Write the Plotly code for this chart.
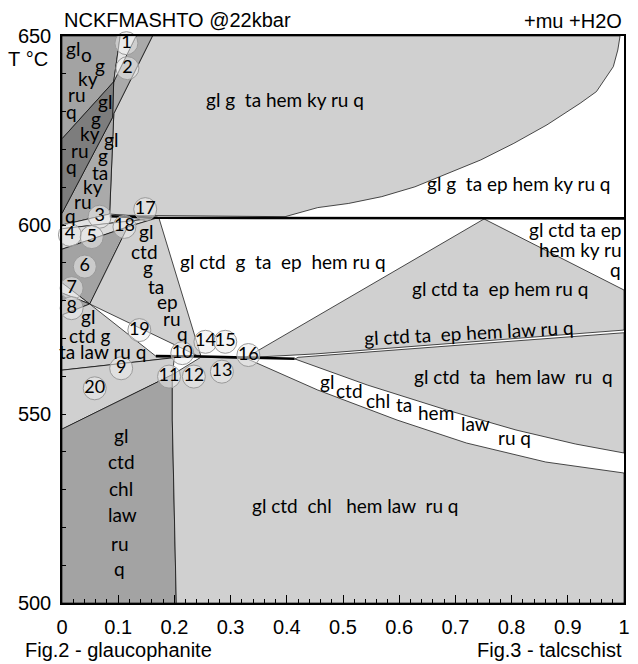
import plotly.graph_objects as go

# ---- axes -------------------------------------------------------------
x_ticks = [0, 0.1, 0.2, 0.3, 0.4, 0.5, 0.6, 0.7, 0.8, 0.9, 1.0]
x_tick_text = ["0", "0.1", "0.2", "0.3", "0.4", "0.5", "0.6", "0.7", "0.8", "0.9", "1"]
t_ticks = list(range(500, 651, 10))
t_tick_text = [str(t) if t % 50 == 0 else "" for t in t_ticks]

# ---- phase fields: (X, T °C) vertices --------------------------------
f_gl_g_ta_hem_ky_ru_q = [(0.161, 650), (0.993, 650), (0.989, 646.3), (0.981, 641.9), (0.951, 635.3),
                         (0.922, 632.2), (0.863, 626.5), (0.804, 621.6), (0.745, 617.2), (0.687, 613.7),
                         (0.628, 610.1), (0.569, 607.5), (0.510, 605.7), (0.455, 604.6), (0.397, 602.2),
                         (0.0847, 602.6), (0.0922, 629.5)]
f_gl_o_g_ky_ru_q = [(0, 650), (0.1035, 650), (0.092, 637.9), (0, 622.8)]
f_1_2 = [(0.1035, 650), (0.1317, 650), (0.092, 637.9)]
f_gl_g_ta_ky_ru_q = [(0.1317, 650), (0.161, 650), (0.0922, 629.5), (0.0847, 602.9), (0, 600.0),
                     (0, 603.1), (0.090, 628.5), (0.092, 637.9)]
f_gl_g_ky_ru_q = [(0, 622.8), (0.092, 637.9), (0.090, 628.5), (0, 603.1)]
f_3 = [(0, 600.0), (0.0847, 602.9), (0.17, 601.9), (0, 599.0)]
f_4_5 = [(0, 599.0), (0.17, 601.9), (0.1169, 599.5), (0, 593.6)]
f_6 = [(0, 593.6), (0.1169, 599.5), (0.0494, 579.1), (0, 584.7)]
f_7 = [(0, 584.7), (0.0494, 579.1), (0, 582.0)]
f_8 = [(0, 582.0), (0.0494, 579.1), (0, 576.2)]
f_gl_ctd_g_ta_ep_ru_q = [(0.1169, 599.5), (0.17, 601.9), (0.1728, 601.7), (0.2469, 565.5),
                         (0.24, 565.5), (0.0494, 579.1)]
f_gl_ctd_g_ta_law_ru_q = [(0, 576.2), (0.0494, 579.1), (0.167, 565.3), (0.24, 565.4), (0.2, 564.9),
                          (0, 561.6)]
f_20 = [(0, 546.0), (0, 561.6), (0.2, 564.9), (0.1963, 560.4)]
f_gl_ctd_chl_law_ru_q = [(0, 500), (0.2034, 500), (0.1963, 548.4), (0.1963, 560.4), (0, 546.0)]
f_gl_ctd_chl_hem_law_ru_q = [(0.2034, 500), (1, 500), (1, 534.39), (0.8607, 537.3), (0.7196, 542.33),
                             (0.5961, 548.41), (0.455, 556.35), (0.3263, 564.81), (0.2469, 565.0),
                             (0.1963, 560.4), (0.1963, 548.4)]
f_gl_ctd_ta_hem_law_ru_q = [(0.4145, 564.55), (0.5432, 557.67), (0.6843, 551.06), (0.8078, 545.77),
                            (0.9136, 542.06), (1, 539.68), (1, 571.5), (0.4515, 565.2), (0.42, 565.0)]
f_gl_ctd_ta_ep_hem_ru_q = [(0.327, 564.9), (0.751, 601.6), (1, 582.8), (1, 572.2), (0.4515, 565.9)]

# thick reaction lines
line_600_x = [0.085, 0.17, 1.0]
line_600_t = [602.3, 601.9, 601.75]
line_565_x = [0.167, 0.25, 0.414]
line_565_t = [565.3, 565.2, 564.6]

# ---- field labels -----------------------------------------------------
big_labels = [
    ("gl g  ta hem ky ru q", 0.397, 633.1, 0),
    ("gl g  ta ep hem ky ru q", 0.813, 611.0, 0),
    ("gl ctd  g  ta  ep  hem ru q", 0.393, 590.3, 0),
    ("gl ctd ta  ep hem ru q", 0.779, 583.3, 0),
    ("gl ctd ta  ep hem law ru q", 0.7234, 571.6, -3),
    ("gl ctd  ta  hem law  ru  q", 0.8028, 559.9, 0),
    ("gl ctd  chl   hem law  ru q", 0.5224, 525.9, 0),
]
right_stack = [("gl ctd ta ep", 598.7), ("hem ky ru", 593.4), ("q", 588.1)]
stack_o = [("gl", 0.0194, 646.8), ("o", 0.0436, 645.0), ("g", 0.0670, 642.3), ("ky", 0.0464, 638.8),
           ("ru", 0.0259, 634.4), ("q", 0.0171, 630.0)]
stack_ky = [("gl", 0.0758, 632.6), ("g", 0.0612, 628.2), ("ky", 0.0494, 624.3), ("ru", 0.0317, 619.8),
            ("q", 0.0171, 615.4)]
stack_ta_ky = [("gl", 0.0877, 622.5), ("g", 0.0728, 618.5), ("ta", 0.0670, 613.9), ("ky", 0.0552, 610.1),
               ("ru", 0.0376, 606.2), ("q", 0.0159, 602.6)]
stack_ep = [("gl", 0.1494, 598.2), ("ctd", 0.1464, 592.9), ("g", 0.1522, 588.8), ("ta", 0.1670, 583.7),
            ("ep", 0.1875, 579.7), ("ru", 0.1963, 575.3), ("q", 0.2139, 571.3)]
stack_law = [("gl", 0.0464, 575.7), ("ctd g", 0.0494, 570.9), ("ta law ru q", 0.0728, 566.5)]
stack_chl = [("gl", 0.1053, 544.4), ("ctd", 0.1053, 537.4), ("chl", 0.1053, 530.3), ("law", 0.107, 523.3),
             ("ru", 0.104, 515.8), ("q", 0.1028, 509.2)]
stack_band = [("gl", 0.4718, 558.7), ("ctd", 0.5115, 556.3), ("chl", 0.5626, 553.7), ("ta", 0.6085, 552.4),
              ("hem", 0.6658, 550.3), ("law", 0.7363, 547.4), ("ru q", 0.806, 543.9)]

# numbered small fields
field_numbers = [str(i) for i in range(1, 21)]
field_number_x = [0.1146, 0.1164, 0.067, 0.0141, 0.0529, 0.0406, 0.0171, 0.0171, 0.1053, 0.214,
                  0.1905, 0.2346, 0.2845, 0.2552, 0.2905, 0.3316, 0.1481, 0.1111, 0.1376, 0.0582]
field_number_t = [648.1, 641.5, 602.2, 597.4, 596.8, 589.0, 583.3, 578.0, 562.1, 566.1,
                  559.9, 559.9, 561.2, 569.1, 569.1, 565.6, 604.2, 599.5, 572.2, 556.8]

LIGHT = "#d0d0d0"
PALE = "#dcdcdc"
SLIVER = "#e8e8e8"
MID = "#a3a3a3"
MID2 = "#aaaaaa"
DARK = "#7d7d7d"

fields = [
    (f_gl_g_ta_hem_ky_ru_q, LIGHT),
    (f_gl_g_ta_ky_ru_q, MID2),
    (f_gl_o_g_ky_ru_q, MID),
    (f_1_2, SLIVER),
    (f_gl_g_ky_ru_q, DARK),
    (f_3, "#e2e2e2"),
    (f_4_5, PALE),
    (f_6, MID),
    (f_7, PALE),
    (f_8, MID),
    (f_gl_ctd_g_ta_ep_ru_q, LIGHT),
    (f_gl_ctd_g_ta_law_ru_q, LIGHT),
    (f_20, LIGHT),
    (f_gl_ctd_chl_law_ru_q, MID),
    (f_gl_ctd_chl_hem_law_ru_q, LIGHT),
    (f_gl_ctd_ta_hem_law_ru_q, LIGHT),
    (f_gl_ctd_ta_ep_hem_ru_q, LIGHT),
]

LABEL_FONT = "Lato"
LABEL_SIZE = 19
AXIS_FONT = "Liberation Sans, Arial, sans-serif"


def nb(s):
    return s.replace(" ", "\u00a0")


fig = go.Figure()

for verts, color in fields:
    xs = [v[0] for v in verts] + [verts[0][0]]
    ts = [v[1] for v in verts] + [verts[0][1]]
    fig.add_trace(go.Scatter(x=xs, y=ts, mode="lines", fill="toself", fillcolor=color,
                             line=dict(color="black", width=0.7), hoverinfo="skip", showlegend=False))

for lx, lt in [(line_600_x, line_600_t), (line_565_x, line_565_t)]:
    fig.add_trace(go.Scatter(x=lx, y=lt, mode="lines", line=dict(color="black", width=2.6),
                             hoverinfo="skip", showlegend=False))

label_font = dict(family=LABEL_FONT, size=LABEL_SIZE, color="black")
annotations = []
for text, x, t, ang in big_labels:
    annotations.append(dict(x=x, y=t, text=nb(text), textangle=ang, showarrow=False, font=label_font))
for text, t in right_stack:
    annotations.append(dict(x=0.999, y=t, text=nb(text), xanchor="right", showarrow=False,
                            font=label_font))
for stack in [stack_o, stack_ky, stack_ta_ky, stack_ep, stack_law, stack_chl, stack_band]:
    for text, x, t in stack:
        annotations.append(dict(x=x, y=t, text=nb(text), showarrow=False, font=label_font))

fig.add_trace(go.Scatter(
    x=field_number_x, y=field_number_t, mode="markers+text", text=field_numbers,
    textposition="middle center", cliponaxis=False,
    marker=dict(size=23, color="rgba(236,236,236,0.55)", line=dict(color="#9a9a9a", width=1)),
    textfont=dict(family=LABEL_FONT, size=18, color="black"),
    hoverinfo="skip", showlegend=False))

# titles and corner notes
axis_font = dict(family=AXIS_FONT, size=20, color="black")
annotations += [
    dict(xref="paper", yref="paper", x=0, y=1 + 16 / 567, xanchor="left", yanchor="middle",
         text="NCKFMASHTO @22kbar", showarrow=False, font=axis_font),
    dict(xref="paper", yref="paper", x=1, y=1 + 15 / 567, xanchor="right", yanchor="middle",
         text="+mu +H2O", showarrow=False, font=axis_font),
    dict(xref="paper", yref="paper", x=-12 / 568, y=1 - 23 / 567, xanchor="right", yanchor="middle",
         text="T\u00a0°C", showarrow=False, font=axis_font),
    dict(xref="paper", yref="paper", x=-39 / 568, y=-47 / 567, xanchor="left", yanchor="middle",
         text="Fig.2 - glaucophanite", showarrow=False, font=axis_font),
    dict(xref="paper", yref="paper", x=1, y=-47 / 567, xanchor="right", yanchor="middle",
         text="Fig.3 - talcschist", showarrow=False, font=axis_font),
]

fig.update_layout(
    width=638, height=664,
    margin=dict(l=62, r=8, t=36, b=61),
    paper_bgcolor="white", plot_bgcolor="white",
    annotations=annotations,
    xaxis=dict(range=[0, 1], tickvals=x_ticks, ticktext=x_tick_text, ticks="inside", ticklen=8,
               tickwidth=1, tickcolor="black", showline=True, mirror=True, linecolor="black",
               linewidth=1.5, showgrid=False, zeroline=False, ticklabelstandoff=5,
               minor=dict(ticks="inside", ticklen=4, dtick=0.02, tick0=0, tickcolor="black", showgrid=False),
               tickfont=axis_font),
    yaxis=dict(range=[500, 650], tickvals=t_ticks, ticktext=t_tick_text, ticks="inside", ticklen=4,
               tickwidth=1, tickcolor="black", showline=True, mirror=True, linecolor="black",
               linewidth=1.5, showgrid=False, zeroline=False, ticklabelstandoff=5,
               tickfont=axis_font),
)

fig.write_html("out.html")
